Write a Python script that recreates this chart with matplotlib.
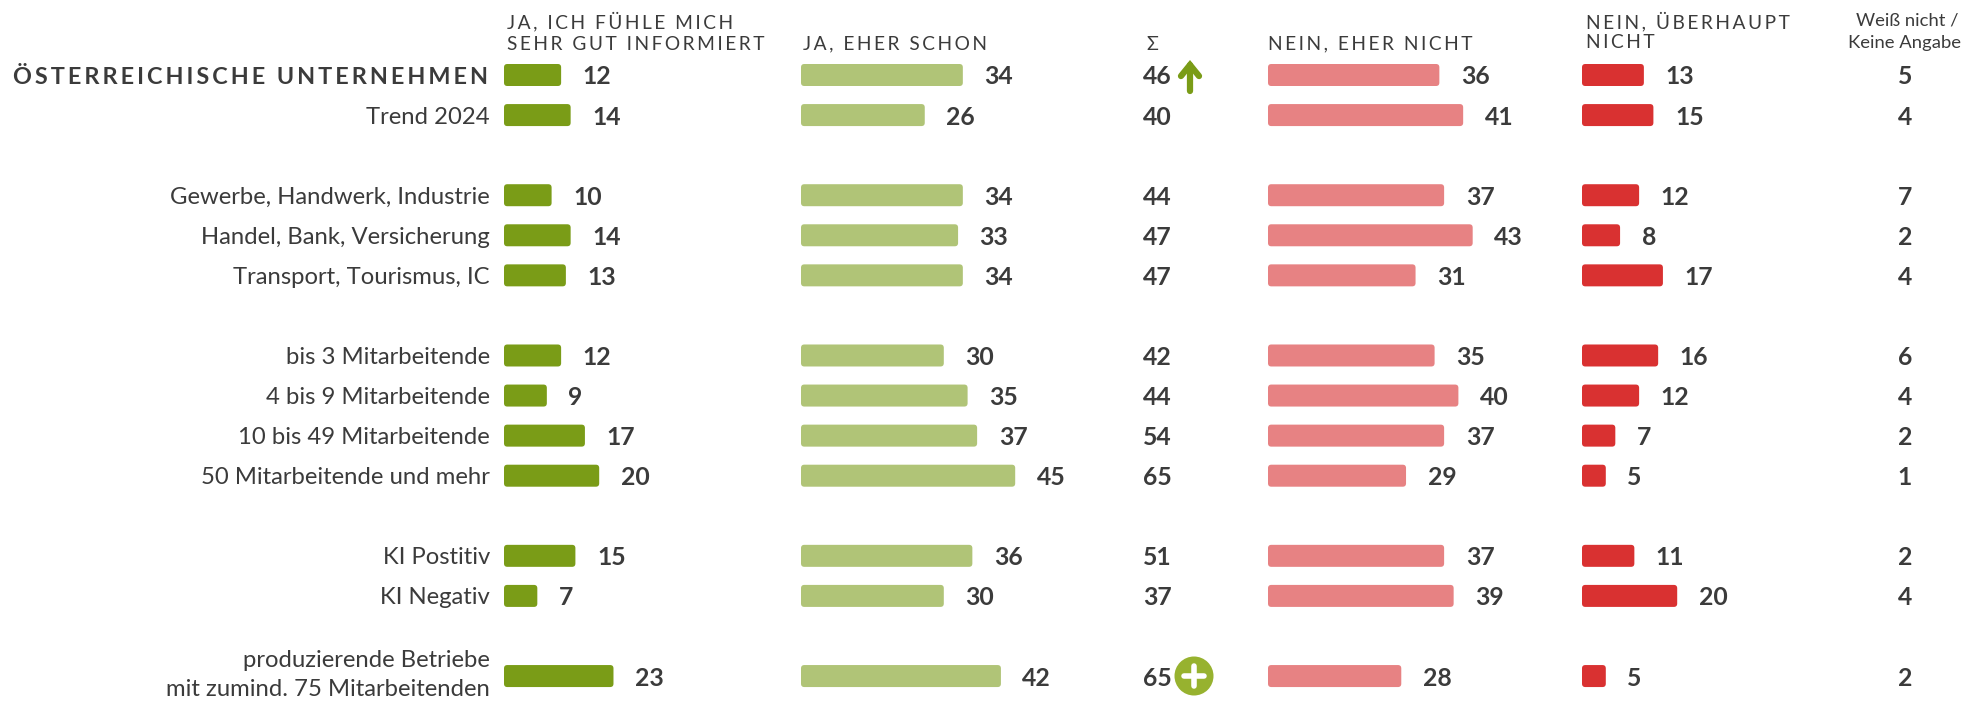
import matplotlib
matplotlib.use('Agg')
import matplotlib.pyplot as plt
from matplotlib.patches import FancyBboxPatch, Circle

plt.rcParams['font.family'] = ['Lato', 'DejaVu Sans']

# Daten
labels = ['Trend 2024', 'Gewerbe, Handwerk, Industrie', 'Handel, Bank, Versicherung', 'Transport, Tourismus, IC',
          'bis 3 Mitarbeitende', '4 bis 9 Mitarbeitende', '10 bis 49 Mitarbeitende', '50 Mitarbeitende und mehr',
          'KI Postitiv', 'KI Negativ']
titel = 'ÖSTERREICHISCHE UNTERNEHMEN'
letzte_zeile = 'produzierende Betriebe\nmit zumind. 75 Mitarbeitenden'
zeilen = [0, 1, 3, 4, 5, 7, 8, 9, 10, 12, 13, 15]

sehr_gut = [12, 14, 10, 14, 13, 12, 9, 17, 20, 15, 7, 23]
eher_schon = [34, 26, 34, 33, 34, 30, 35, 37, 45, 36, 30, 42]
summe = [46, 40, 44, 47, 47, 42, 44, 54, 65, 51, 37, 65]
eher_nicht = [36, 41, 37, 43, 31, 35, 40, 37, 29, 37, 39, 28]
gar_nicht = [13, 15, 12, 8, 17, 16, 12, 7, 5, 11, 20, 5]
weiss_nicht = [5, 4, 7, 2, 4, 6, 4, 2, 1, 2, 4, 2]

W, H = 1968, 701
TXT = '#3b3b3b'
PX_X = 4.76   # Pixel je Prozentpunkt
PX_Y = 40.07  # Pixel je Zeile
Y0 = 75
GROSS = 17.8  # Zahlen


def sperren(s, n=1):
    # Laufweite ueber Hair Spaces
    return ('\u200a' * n).join(s)


fig = plt.figure(figsize=(W / 100, H / 100), dpi=100)
ax = fig.add_axes([0, 0, 1, 1])
ax.set_xlim(0, W)
ax.set_ylim(H, 0)
ax.axis('off')


def spalte(x0, breite, werte, farbe):
    a = fig.add_axes([x0 / W, 0, breite / W, 1])
    a.set_xlim(0, breite / PX_X)
    a.set_ylim((H - Y0) / PX_Y, -Y0 / PX_Y)
    a.axis('off')
    a.patch.set_alpha(0)
    for z, v in zip(zeilen, werte):
        h = 22 / PX_Y
        a.add_patch(FancyBboxPatch((0, z - h / 2), v, h, boxstyle='round,pad=0,rounding_size=0.7',
                                   mutation_aspect=PX_X / PX_Y, fc=farbe, ec='none'))
        a.annotate(str(v), (v, z), xytext=(15.5, 0), textcoords='offset points', ha='left', va='center_baseline',
                   fontsize=GROSS, fontweight='bold', color=TXT)


spalte(504, 280, sehr_gut, '#7a9c17')
spalte(801, 300, eher_schon, '#b0c477')
spalte(1268, 300, eher_nicht, '#e78283')
spalte(1582, 250, gar_nicht, '#d93131')


def zeile_y(z):
    return Y0 + z * PX_Y


# linke Beschriftung
ax.text(488, zeile_y(0), sperren(titel, 2), ha='right', va='center_baseline', fontsize=16.85, fontweight='bold', color=TXT)
for z, t in zip(zeilen[1:-1], labels):
    ax.text(490, zeile_y(z), t, ha='right', va='center_baseline', fontsize=17.2, color=TXT)
ax.text(490, zeile_y(15) - 1, letzte_zeile, ha='right', va='center', fontsize=17.2, color=TXT, linespacing=1.42,
        multialignment='right')

# Summe und Weiss nicht
for z, s, w in zip(zeilen, summe, weiss_nicht):
    ax.text(1172, zeile_y(z), str(s), ha='right', va='center_baseline', fontsize=GROSS, fontweight='bold', color=TXT)
    ax.text(1905, zeile_y(z), str(w), ha='center', va='center_baseline', fontsize=GROSS, fontweight='bold', color=TXT)

# Kopfzeilen
kopf = dict(fontsize=13.8, color=TXT, va='center', ha='left')
ax.text(507, 21, sperren('JA, ICH FÜHLE MICH', 2), **kopf)
ax.text(507, 44, sperren('SEHR GUT INFORMIERT', 2), **kopf)
ax.text(803, 44, sperren('JA, EHER SCHON', 2), **kopf)
ax.text(1152, 44, 'Σ', fontsize=14, color=TXT, va='center', ha='center')
ax.text(1268, 44, sperren('NEIN, EHER NICHT', 2), **kopf)
ax.text(1586, 21, sperren('NEIN, ÜBERHAUPT', 2), **kopf)
ax.text(1586, 43, sperren('NICHT', 2), **kopf)
ax.text(1907, 21, 'Weiß nicht /', fontsize=13.3, color=TXT, va='center', ha='center')
ax.text(1905, 43, 'Keine Angabe', fontsize=13.3, color=TXT, va='center', ha='center')

# Pfeil und Plus
ax.annotate('', xy=(1190, 60), xytext=(1190, 91),
            arrowprops=dict(arrowstyle='->,head_width=0.65,head_length=0.8', lw=4.5, color='#7a9c17',
                            capstyle='round', joinstyle='miter', shrinkA=0, shrinkB=0))
ax.add_patch(Circle((1194, 676), 19.5, fc='#97b22f', ec='none'))
ax.plot([1184, 1204], [676, 676], color='white', lw=4, solid_capstyle='round')
ax.plot([1194, 1194], [666, 686], color='white', lw=4, solid_capstyle='round')

fig.savefig('out.png', dpi=100, facecolor='white')
